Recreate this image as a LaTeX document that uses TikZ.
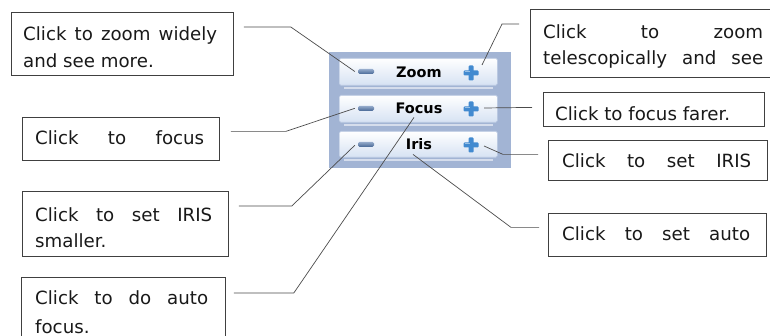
\documentclass[tikz,border=0pt]{standalone}
\usepackage{fontspec}
\setmainfont{DejaVu Sans}
\definecolor{panelblue}{RGB}{162,180,212}
\definecolor{btnbot}{RGB}{214,226,243}
\definecolor{btnedge}{RGB}{186,201,226}
\definecolor{minustop}{RGB}{150,172,204}
\definecolor{minusbot}{RGB}{72,104,150}
\definecolor{plusblue}{RGB}{66,138,208}
\begin{document}
\begin{tikzpicture}[x=1pt,y=-1pt,
  callbox/.style={draw=black!75, line width=0.8pt, inner sep=0, anchor=north west},
  txt/.style={inner sep=0, anchor=base west, font=\fontsize{18.2}{22}\selectfont, text=black!90},
  conn/.style={draw=black!70, line width=0.7pt},
  btn/.style={draw=btnedge, line width=0.6pt, top color=white, bottom color=btnbot, rounded corners=1.5pt, minimum width=158pt, inner sep=0, anchor=north west},
  slot/.style={draw=white!55!panelblue, line width=1.6pt},
  lbl/.style={inner sep=0, anchor=base, font=\bfseries\fontsize{14.5}{16}\selectfont},
  minus/.style={inner sep=0, minimum width=16pt, minimum height=5pt, rounded corners=1.5pt, top color=minustop, bottom color=minusbot},
  plusn/.style={inner sep=0, minimum width=15pt, minimum height=15pt},
]
\clip (0,0) rectangle (770,336);
\fill[white] (0,0) rectangle (770,336);

% control panel
\node[fill=panelblue, minimum width=182pt, minimum height=116pt, inner sep=0, anchor=north west] (panel) at (329,52) {};
\node[btn, minimum height=27pt] (zb) at (339,58) {};
\node[btn, minimum height=27pt] (fb) at (339,95) {};
\node[btn, minimum height=26pt] (ib) at (339,131) {};
\foreach \b in {zb,fb,ib}{
  \draw[slot] ([xshift=5pt,yshift=-2.5pt]\b.south west) -- ([xshift=-5pt,yshift=-2.5pt]\b.south east);
}
\node[lbl] (zl) at (419,78) {Zoom};
\node[lbl] (fl) at (419,114) {Focus};
\node[lbl] (il) at (419,149.5) {Iris};
\node[minus] (zm) at (366,71.5) {};
\node[minus] (fm) at (366,108.3) {};
\node[minus] (im) at (366,144.3) {};
\node[plusn] (zp) at (471,73) {};
\node[plusn] (fp) at (471,109) {};
\node[plusn] (ip) at (471,145) {};
\foreach \p in {zp,fp,ip}{
  \fill[plusblue, rounded corners=1pt] ([xshift=-7.5pt,yshift=-2.5pt]\p.center) rectangle ([xshift=7.5pt,yshift=2.5pt]\p.center);
  \fill[plusblue, rounded corners=1pt] ([xshift=-2.5pt,yshift=-7.5pt]\p.center) rectangle ([xshift=2.5pt,yshift=7.5pt]\p.center);
  \fill[white!45!plusblue] ([xshift=-6pt,yshift=0.5pt]\p.center) rectangle ([xshift=-1pt,yshift=2pt]\p.center);
}

% callout boxes
\node[callbox, minimum width=222pt, minimum height=63pt] (b1) at (11,12) {};
\node[txt] (t1a) at (23,41) {\makebox[194pt][s]{Click to zoom widely}};
\node[txt] (t1b) at (23,68) {and see more.};

\node[callbox, minimum width=197pt, minimum height=43pt] (b2) at (22,117) {};
\node[txt] (t2a) at (35,145) {\makebox[169pt][s]{Click to focus}};

\node[callbox, minimum width=206pt, minimum height=65pt] (b3) at (22,191) {};
\node[txt] (t3a) at (35,222) {\makebox[177pt][s]{Click to set IRIS}};
\node[txt] (t3b) at (35,248) {smaller.};

\node[callbox, minimum width=204pt, minimum height=80pt] (b4) at (21,277) {};
\node[txt] (t4a) at (35,304) {\makebox[173pt][s]{Click to do auto}};
\node[txt] (t4b) at (35,333) {focus.};

\node[callbox, minimum width=260pt, minimum height=68pt] (b5) at (530,9) {};
\node[txt] (t5a) at (543,39) {\makebox[220pt][s]{Click to zoom}};
\node[txt] (t5b) at (543,65) {\makebox[220pt][s]{telescopically and see}};

\node[callbox, minimum width=221pt, minimum height=34pt] (b6) at (543,92) {};
\node[txt] (t6a) at (555,120.5) {Click to focus farer.};

\node[callbox, minimum width=219pt, minimum height=40pt] (b7) at (548,140) {};
\node[txt] (t7a) at (562,168) {\makebox[189pt][s]{Click to set IRIS}};

\node[callbox, minimum width=218pt, minimum height=43pt] (b8) at (548,213) {};
\node[txt] (t8a) at (562,241) {\makebox[188pt][s]{Click to set auto}};

% connectors
\draw[conn] ([xshift=10pt,yshift=-15pt]b1.north east) -- ++(47,0) -- ([xshift=-3pt]zm.west);
\draw[conn] ([xshift=11pt,yshift=7.5pt]b2.east) -- ++(55,0) -- ([xshift=-3pt]fm.west);
\draw[conn] ([xshift=10pt,yshift=-15pt]b3.north east) -- ++(53,0) -- ([xshift=-3pt,yshift=-1pt]im.west);
\draw[conn] ([xshift=8pt,yshift=-16pt]b4.north east) -- ++(60,0) -- ([xshift=-5pt,yshift=-3pt]fl.south);
\draw[conn] ([xshift=-11pt,yshift=-15pt]b5.north west) -- ++(-17,0) -- ([xshift=11pt,yshift=8pt]zp.center);
\draw[conn] ([xshift=-11pt,yshift=2pt]b6.west) -- ([xshift=13pt,yshift=1pt]fp.center);
\draw[conn] ([xshift=-10pt,yshift=6pt]b7.west) -- ++(-35,0) -- ([xshift=13pt,yshift=-1pt]ip.center);
\draw[conn] ([xshift=-9pt,yshift=7.5pt]b8.west) -- ++(-28,0) -- ([xshift=-6pt,yshift=-4.5pt]il.south);
\end{tikzpicture}
\end{document}
